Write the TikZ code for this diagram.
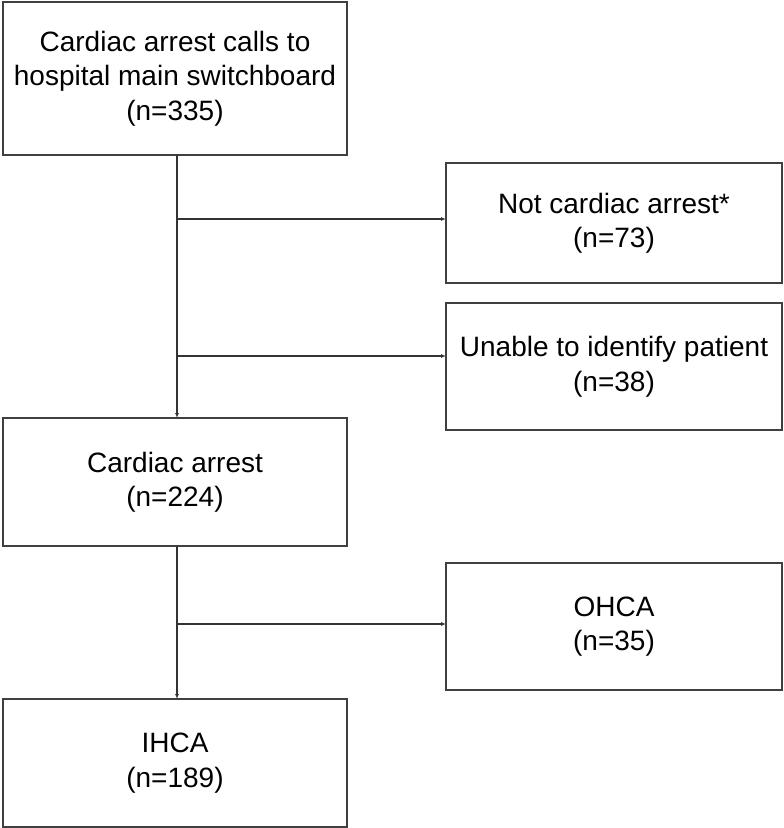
\documentclass[tikz,border=0pt]{standalone}
\usepackage{fontspec}
\setmainfont{Liberation Sans}
\usetikzlibrary{arrows.meta}
\tikzset{
  box/.style={draw=black!75, line width=1.3pt, inner sep=0pt, outer sep=0pt, align=center,
    font=\fontsize{28}{34.5}\selectfont},
  conn/.style={draw=black!80, line width=1.2pt},
  arr/.style={conn, -{Latex[length=5pt,width=4pt]}}
}
\begin{document}
\begin{tikzpicture}[x=1pt,y=-1pt]
\useasboundingbox (0,0) rectangle (784,828);
\node[box, minimum width=344pt, minimum height=153pt] (top) at (175,78.5) {Cardiac arrest calls to\\hospital main switchboard\\(n=335)};
\node[box, minimum width=336pt, minimum height=120pt] (nca) at (614,223) {Not cardiac arrest*\\(n=73)};
\node[box, minimum width=336pt, minimum height=127pt] (una) at (614,366.5) {Unable to identify patient\\(n=38)};
\node[box, minimum width=344pt, minimum height=128pt] (ca) at (175,482) {Cardiac arrest\\(n=224)};
\node[box, minimum width=336pt, minimum height=127pt] (ohca) at (614,626.5) {OHCA\\(n=35)};
\node[box, minimum width=344pt, minimum height=128pt] (ihca) at (175,763) {IHCA\\(n=189)};
\coordinate (s1) at (177,155);
\coordinate (b1) at (177,219);
\coordinate (b2) at (177,356);
\coordinate (s2) at (177,546);
\coordinate (b3) at (177,624);
\draw[arr] (s1) -- (s1 |- ca.north);
\draw[arr] (b1) -- (b1 -| nca.west);
\draw[arr] (b2) -- (b2 -| una.west);
\draw[arr] (s2) -- (s2 |- ihca.north);
\draw[arr] (b3) -- (b3 -| ohca.west);
\end{tikzpicture}
\end{document}
